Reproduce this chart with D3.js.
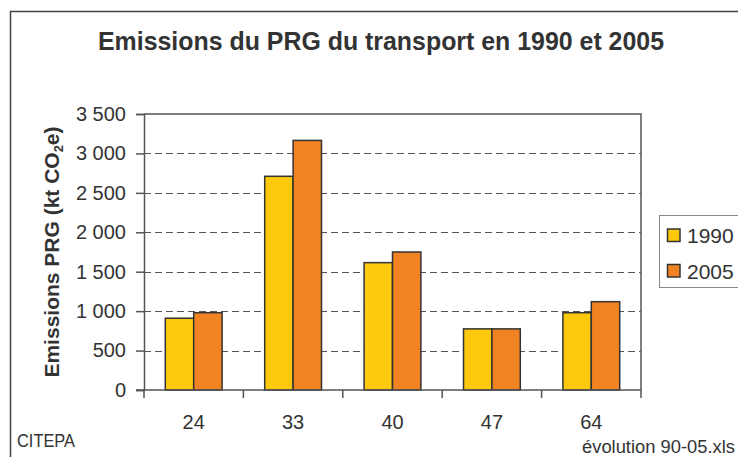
<html>
<head>
  <script src="https://d3js.org/d3.v7.min.js"></script>
  <style>
    body { margin: 0; background: white; }
    text { font-family: "Liberation Sans", Arial, sans-serif; fill: #333; }
    .grid { stroke: #555; stroke-width: 1px; stroke-dasharray: 7,4; }
    .frame { stroke: #555; stroke-width: 1.5px; fill: none; }
  </style>
</head>
<body>
  <svg id="chart" width="738" height="457"></svg>
  <script>
    // data
    const categories = ["24", "33", "40", "47", "64"];
    const seriesNames = ["1990", "2005"];
    const values1990 = [910, 2710, 1615, 775, 980];
    const values2005 = [980, 3165, 1750, 775, 1120];
    const yTicks = [0, 500, 1000, 1500, 2000, 2500, 3000, 3500];
    const colors = ["#FDC90C", "#F28322"];

    const svg = d3.select("#chart");
    const plot = { left: 144, right: 641, top: 114, bottom: 390 };

    // outer frame of the chart (runs off the right / bottom edge)
    svg.append("rect")
      .attr("x", 10.5).attr("y", 11.5)
      .attr("width", 760).attr("height", 470)
      .attr("fill", "white").attr("stroke", "#444").attr("stroke-width", 1.5);

    svg.append("text")
      .attr("x", 98).attr("y", 50)
      .attr("textLength", 566).attr("lengthAdjust", "spacingAndGlyphs")
      .style("font-size", "25px").style("font-weight", "bold")
      .text("Emissions du PRG du transport en 1990 et 2005");

    const x = d3.scaleBand().domain(categories).range([plot.left, plot.right]).padding(0);
    const xs = d3.scaleBand().domain(seriesNames).range([0, x.bandwidth()]).paddingOuter(0.75);
    const y = d3.scaleLinear().domain([0, 3500]).range([plot.bottom, plot.top]);

    const fr = d3.formatLocale({ decimal: ",", thousands: " ", grouping: [3] });
    const fmt = fr.format(",d");

    // grid lines
    svg.append("g").selectAll("line")
      .data(yTicks.filter(d => d > 0 && d < 3500))
      .enter().append("line")
      .attr("class", "grid")
      .attr("x1", plot.left).attr("x2", plot.right)
      .attr("y1", d => Math.round(y(d)) + 0.5).attr("y2", d => Math.round(y(d)) + 0.5);

    // plot border top + right
    svg.append("path")
      .attr("d", "M" + plot.left + "," + plot.top + "H" + plot.right + "V" + plot.bottom)
      .attr("class", "frame");

    // bars
    const table = categories.map((c, i) => ({ cat: c, vals: [values1990[i], values2005[i]] }));
    const groups = svg.append("g").selectAll("g")
      .data(table).enter().append("g")
      .attr("transform", d => "translate(" + x(d.cat) + ",0)");
    groups.selectAll("rect")
      .data(d => d.vals.map((v, j) => ({ s: seriesNames[j], v: v, j: j })))
      .enter().append("rect")
      .attr("x", d => xs(d.s))
      .attr("width", xs.bandwidth())
      .attr("y", d => y(d.v))
      .attr("height", d => plot.bottom - y(d.v))
      .attr("fill", d => colors[d.j])
      .attr("stroke", "#333").attr("stroke-width", 1.5);

    // y axis
    const yAxis = d3.axisLeft(y).tickValues(yTicks).tickFormat(fmt).tickSize(8).tickPadding(10);
    const ya = svg.append("g").attr("transform", "translate(" + plot.left + ",0)").call(yAxis);
    ya.select(".domain").attr("stroke", "#555").attr("stroke-width", 1.5);
    ya.selectAll(".tick line").attr("stroke", "#555").attr("stroke-width", 1.5);
    ya.selectAll(".tick text").style("font-size", "20px").attr("fill", "#333");

    // x axis
    const xa = svg.append("g");
    xa.append("line")
      .attr("x1", plot.left - 8).attr("x2", plot.right)
      .attr("y1", plot.bottom).attr("y2", plot.bottom)
      .attr("stroke", "#555").attr("stroke-width", 1.5);
    const bounds = categories.map(c => x(c)).concat([x(categories[categories.length - 1]) + x.bandwidth()]);
    xa.selectAll(".xt").data(bounds).enter().append("line")
      .attr("x1", d => d).attr("x2", d => d)
      .attr("y1", plot.bottom).attr("y2", plot.bottom + 8)
      .attr("stroke", "#555").attr("stroke-width", 1.5);
    xa.selectAll(".xl").data(categories).enter().append("text")
      .attr("x", d => x(d) + x.bandwidth() / 2)
      .attr("y", 429)
      .attr("text-anchor", "middle")
      .style("font-size", "20px")
      .text(d => d);

    // y label
    const yl = svg.append("text")
      .attr("transform", "translate(59,252) rotate(-90)")
      .attr("text-anchor", "middle")
      .style("font-size", "21px").style("font-weight", "bold");
    yl.append("tspan").text("Emissions PRG (kt CO");
    yl.append("tspan").attr("dy", 4).style("font-size", "13px").text("2");
    yl.append("tspan").attr("dy", -4).text("e)");

    // legend
    const lg = svg.append("g");
    lg.append("rect")
      .attr("x", 659.5).attr("y", 215.5).attr("width", 90).attr("height", 72)
      .attr("fill", "white").attr("stroke", "#888").attr("stroke-width", 1);
    lg.selectAll(".sw").data(seriesNames).enter().append("rect")
      .attr("x", 667.5).attr("y", (d, i) => 229 + i * 35.5)
      .attr("width", 12.5).attr("height", 12.5)
      .attr("fill", (d, i) => colors[i])
      .attr("stroke", "#333").attr("stroke-width", 1.5);
    lg.selectAll(".lt").data(seriesNames).enter().append("text")
      .attr("x", 687).attr("y", (d, i) => 243 + i * 35.5)
      .style("font-size", "21px")
      .text(d => d);

    // footnotes
    svg.append("text")
      .attr("x", 17).attr("y", 447)
      .attr("textLength", 58).attr("lengthAdjust", "spacingAndGlyphs")
      .style("font-size", "18px")
      .text("CITEPA");
    svg.append("text")
      .attr("x", 582).attr("y", 453)
      .attr("textLength", 153).attr("lengthAdjust", "spacingAndGlyphs")
      .style("font-size", "18px")
      .text("évolution 90-05.xls");
  </script>
</body>
</html>
